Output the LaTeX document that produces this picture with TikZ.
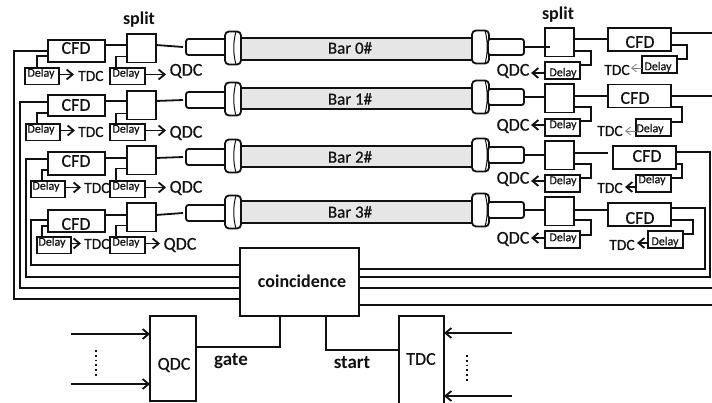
\documentclass[tikz,border=0pt]{standalone}
\usepackage{fontspec}
\setmainfont{Carlito}
\newfontfamily\heavyfont[FakeBold=0.6]{Carlito}
\usetikzlibrary{arrows.meta}
\definecolor{ink}{HTML}{111111}
\definecolor{barfill}{HTML}{E6E6E6}
\tikzset{
  wire/.style={line width=1.8pt,draw=ink},
  boxn/.style={draw=ink,line width=1.8pt,fill=white,inner sep=0pt,outer sep=0pt,rectangle},
  sig/.style={wire,-{Straight Barb[length=6pt,width=10pt,line width=1.8pt]}},
  faint/.style={line width=0.8pt,draw=gray,-{Straight Barb[length=5pt,width=8pt,line width=0.8pt]}},
  lab/.style={inner sep=0pt,text=ink,font=\heavyfont\fontsize{18}{18}\selectfont},
  tdclab/.style={inner sep=0pt,text=ink,font=\heavyfont\fontsize{15.5}{16}\selectfont},
  dlab/.style={inner sep=0pt,text=ink,font=\heavyfont\fontsize{12}{12}\selectfont},
  blab/.style={inner sep=0pt,text=ink,font=\fontsize{18}{18}\selectfont\bfseries},
  barlab/.style={inner sep=0pt,text=ink,font=\heavyfont\fontsize{17}{17}\selectfont},
}
\newcommand{\bx}[6]{%
  \pgfmathsetmacro{\bw}{(#4)-(#2)}\pgfmathsetmacro{\bh}{(#5)-(#3)}%
  \node[boxn,minimum width=\bw pt,minimum height=\bh pt,#6] (#1) at ({((#2)+(#4))/2},{((#3)+(#5))/2}) {};}
\begin{document}
\begin{tikzpicture}[x=1pt,y=-1pt]
\useasboundingbox (0,0) rectangle (712,403);
\clip (0,0) rectangle (712,403);
\fill[white] (0,0) rectangle (712,403);

% coincidence and bus lines
\bx{CO}{240}{248}{359}{316}{}
\node[blab] (cot) at (302,281) {coincidence};

% left channels
\foreach \rn/\st/\ct/\cb/\my/\fc/\pc/\dt/\dx/\sx/\sy/\rx/\ry/\by/\tc/\tx/\ty/\qx/\qy/\ax/\dlx in {
 0/34/40/62/45/48/47/68/25/37/56/14/51/299/48/91/76/186/71/74/41,
 1/91/95/116/101/99/100/124/26/37/113/20/102/288/105/91/132/186/133/75/41,
 2/146/152/175/158/156/157/181/31/42/170/26/159/277/161/97/188/186/188/81/46,
 3/203/210/232/215/212/213/237/37/42/226/31/220/265/224/97/244/180/245/81/52}{
  \pgfmathsetmacro{\dxe}{\dx+34}
  \pgfmathsetmacro{\db}{\dt+16.5}
  \pgfmathsetmacro{\sb}{\st+28.5}
  \pgfmathsetmacro{\dm}{\dt+6.5}
  \pgfmathsetmacro{\ptop}{\pc-8}
  \pgfmathsetmacro{\pbot}{\pc+8}
  \bx{LC\rn}{48}{\ct}{105}{\cb}{}
  \bx{LS\rn}{127}{\st}{156}{\sb}{}
  \bx{LD\rn}{\dx}{\dt}{\dxe}{\db}{}
  \bx{LE\rn}{110}{\dt}{145}{\db}{}
  \bx{LP\rn}{186}{\ptop}{226}{\pbot}{rounded corners=2.5pt}
  \node[lab] (LCt\rn) at (76,\tc) {CFD};
  \node[dlab] (LDt\rn) at (\dlx,{\dt+5.5}) {Delay};
  \node[dlab] (LEt\rn) at (126,{\dt+5.5}) {Delay};
  \node[tdclab,anchor=west] (LT\rn) at (\tx-13,\ty) {TDC};
  \node[lab,anchor=center] (LQ\rn) at (\qx,\qy) {QDC};
  \coordinate (LW\rn) at (183,\pc);
  \draw[wire] (LC\rn.east |- 0,\my) -- (LS\rn.west |- 0,\my);
  \draw[wire] (LS\rn.east |- 0,\my) -- (LW\rn);
  \draw[wire] (LC\rn.west |- 0,\sy) -| (LD\rn.north -| \sx,0);
  \draw[wire] (LS\rn.west |- 0,{\sb-6}) -| (LE\rn.north -| 116,0);
  \draw[sig] (LD\rn.east |- 0,\dm) -- (\ax,\dm);
  \draw[sig] (LE\rn.east |- 0,\dm) -- (\qx-20,\dm);
  \draw[wire] (LC\rn.west |- 0,\ry) -- (\rx,\ry) -- (\rx,\by) -- (CO.west |- 0,\by);
}

% bars and flanges
\foreach \rn/\bt/\bb/\lf/\rf/\tx/\txt in {
 0/38/60/48/47/48/Bar 0\#,
 1/88/109/99/97/99/Bar 1\#,
 2/146/167/156/155/157/Bar 2\#,
 3/201/223/212/210/212/Bar 3\#}{
  \bx{BR\rn}{236}{\bt}{476}{\bb}{fill=barfill}
  \node[barlab] (BT\rn) at (350,\tx) {\txt};
  \bx{LF\rn}{225}{\lf-16.5}{241}{\lf+16.5}{rounded corners=4pt}
  \bx{RF\rn}{472}{\rf-16.5}{489}{\rf+16.5}{rounded corners=4pt}
  \draw[line width=1pt,draw=ink] (LF\rn.north -| 236,0) .. controls (233,\lf-6) and (233,\lf+6) .. (LF\rn.south -| 236,0);
  \draw[line width=1pt,draw=ink] (RF\rn.north -| 485,0) .. controls (488,\rf-6) and (488,\rf+6) .. (RF\rn.south -| 485,0);
}

% right channels
\foreach \rn/\st/\pc/\cx/\ct/\my/\wy/\dqy/\dy/\qty/\ex/\et/\bendx/\tout/\tlx/\tly/\dtx/\dty/\cfx/\cfy/\dly/\sarrow in {
 0/28/47/608/28/39/65/62/73/71/642/56/687/45/617/70/658/67/640/42/73/faint,
 1/84/97/608/84.5/96/121/119/125/126/636/119/682/107/610/131/650/129/635/98/125/faint,
 2/141/155/613/146/153/178/175/181/179/636/175/682/164/610/188/652/180/647/156/181/sig,
 3/197/210/608/203/210/235/231/238/239/648/231/693/220/622/245/665/242/640/218/238/sig}{
  \pgfmathsetmacro{\sb}{\st+28.5}
  \pgfmathsetmacro{\db}{\dqy+17}
  \pgfmathsetmacro{\cxe}{\cx+63}
  \pgfmathsetmacro{\cb}{\ct+23}
  \pgfmathsetmacro{\exe}{\ex+35}
  \pgfmathsetmacro{\eb}{\et+17}
  \pgfmathsetmacro{\ptop}{\pc-8}
  \pgfmathsetmacro{\pbot}{\pc+8}
  \bx{RP\rn}{488}{\ptop}{524}{\pbot}{rounded corners=2.5pt}
  \bx{RS\rn}{545}{\st}{574}{\sb}{}
  \bx{RC\rn}{\cx}{\ct}{\cxe}{\cb}{}
  \bx{RD\rn}{545}{\dqy}{580}{\db}{}
  \bx{RE\rn}{\ex}{\et}{\exe}{\eb}{}
  \node[lab] (RCt\rn) at (\cfx,\cfy) {CFD};
  \node[dlab] (RDt\rn) at (563,\dly) {Delay};
  \node[dlab] (REt\rn) at (\dtx,\dty) {Delay};
  \node[lab] (RQ\rn) at (513,\qty) {QDC};
  \node[tdclab] (RT\rn) at (\tlx,\tly) {TDC};
  \draw[wire] (RP\rn.east |- 0,\pc) -- (RS\rn.west |- 0,\pc);
  \coordinate (RW\rn) at (608,\my);
  \draw[wire] (RS\rn.east |- 0,\my) -- (RW\rn);
  \draw[wire] (RS\rn.east |- 0,{\sb-5.5}) -- (591,{\sb-5.5}) -- (591,\wy) -- (RD\rn.east |- 0,\wy);
  \draw[wire] (RC\rn.east |- 0,\tout) -- (\bendx,\tout) -- (\bendx,{\et+3}) -- (RE\rn.east |- 0,{\et+3});
  \draw[sig] (RD\rn.west |- 0,\dy) -- (531,\dy);
  \draw[\sarrow] (RE\rn.west |- 0,{\et+12}) -- (\ex-11,{\et+12});
}
\draw[wire] (RS0.west |- 0,47) -- (550,47);

% right bus lines
\coordinate (E0) at (712,33);
\coordinate (E1) at (712,96);
\coordinate (E2) at (712,288);
\coordinate (E3) at (712,305);
\draw[wire] (RC0.east |- E0) -- (E0);
\draw[wire] (RC1.east |- E1) -- (E1);
\draw[wire] (CO.east |- E2) -- (E2);
\draw[wire] (CO.east |- E3) -- (E3);
\draw[wire] (RC2.east |- 0,152) -- (710,152) -- (710,277) -- (CO.east |- 0,277);
\draw[wire] (RC3.east |- 0,208) -- (705,208) -- (705,269) -- (CO.east |- 0,269);

% split labels
\node[blab] (SL) at (139,20) {split};
\node[blab] (SR) at (558,15) {split};

% readout modules
\bx{QM}{150}{316}{196}{401}{}
\bx{TM}{399}{316}{444}{412}{}
\node[lab] (QMt) at (174,365) {QDC};
\node[lab] (TMt) at (421,359) {TDC};
\draw[wire] (CO.south -| 280,0) -- (280,347) -- (QM.east |- 0,347);
\draw[wire] (CO.south -| 326,0) -- (326,350) -- (TM.west |- 0,350);
\node[blab,font=\fontsize{19}{19}\selectfont\bfseries] (GA) at (231,361) {gate};
\node[blab,font=\fontsize{19}{19}\selectfont\bfseries] (ST) at (352,363) {start};
\coordinate (QA) at (71,334);
\coordinate (QB) at (71,384);
\coordinate (TA) at (512,333);
\coordinate (TB) at (512,396);
\draw[sig] (QA) -- (QM.west |- QA);
\draw[sig] (QB) -- (QM.west |- QB);
\draw[sig] (TA) -- (TM.east |- TA);
\draw[sig] (TB) -- (TM.east |- TB);
\coordinate (D1) at (96,350);
\coordinate (D2) at (96,376);
\coordinate (D3) at (467,355);
\coordinate (D4) at (467,381);
\draw[line width=2pt,draw=ink,dash pattern=on 1.8pt off 3pt] (D1) -- (D2);
\draw[line width=2pt,draw=ink,dash pattern=on 1.8pt off 3pt] (D3) -- (D4);
\end{tikzpicture}
\end{document}
